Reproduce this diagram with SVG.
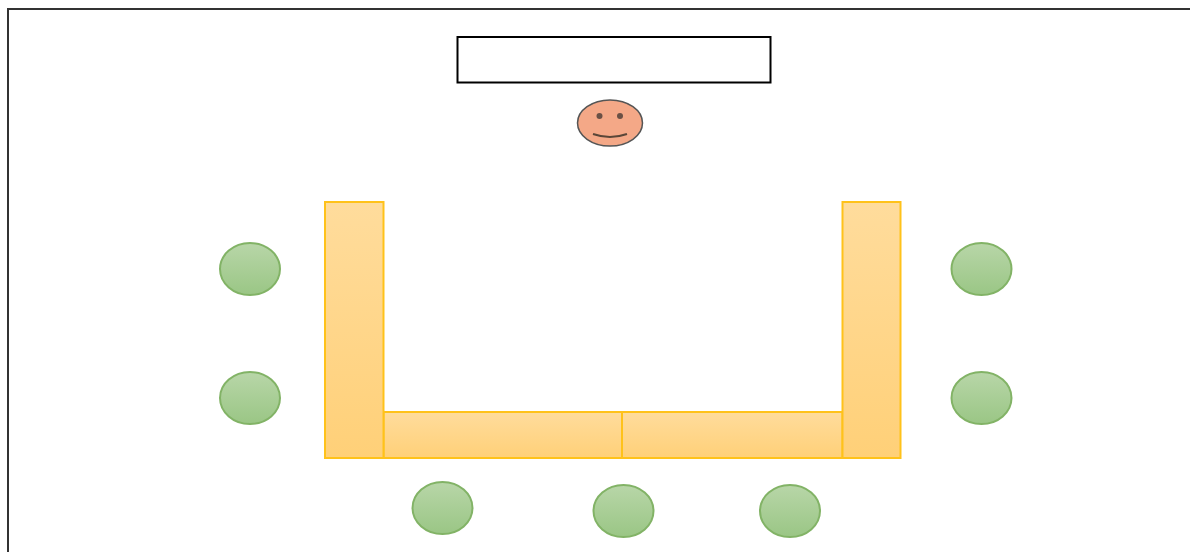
<svg xmlns="http://www.w3.org/2000/svg" width="1190" height="552" viewBox="0 0 1190 552">
<style>
.t{stroke:#ffc21a;stroke-width:2}
.s{fill:url(#gs);stroke:#82b366;stroke-width:2}
.f{fill:none;stroke:#5a4638;stroke-width:2}
</style>
<defs>
<linearGradient id="go" x1="0" y1="0" x2="0" y2="1"><stop offset="0" stop-color="#ffdc9c"/><stop offset="1" stop-color="#ffd078"/></linearGradient>
<linearGradient id="gs" x1="0" y1="0" x2="0" y2="1"><stop offset="0" stop-color="#b8d6a8"/><stop offset="1" stop-color="#9ac685"/></linearGradient>
</defs>
<rect width="1190" height="552" fill="#fff"/>
<g id="room"><path d="M1190 9H8V552" fill="none" stroke="#333" stroke-width="2"/></g>
<g id="board"><rect x="457.500" y="37" width="313" height="45.500" fill="#fff" stroke="#000" stroke-width="2"/></g>
<g id="teacher">
<ellipse cx="610" cy="123" rx="32.500" ry="23" fill="#f4a887" stroke="#555" stroke-width="1.500"/>
<circle cx="599.500" cy="116" r="3" fill="#6a5045"/>
<circle cx="620" cy="116" r="3" fill="#6a5045"/>
<path class="f" d="M593 134Q610 140 627 134"/>
</g>
<g id="tables">
<rect id="table-bottom-left" class="t" x="383.500" y="412" width="238.500" height="46" fill="url(#go)"/>
<rect id="table-bottom-right" class="t" x="622" y="412" width="220.500" height="46" fill="url(#go)"/>
<rect id="table-left" class="t" x="325" y="202" width="58.500" height="256" fill="url(#go)"/>
<rect id="table-right" class="t" x="842.500" y="202" width="58" height="256" fill="url(#go)"/>
</g>
<g id="student-1"><ellipse class="s" cx="250" cy="269" rx="30" ry="26"/></g>
<g id="student-2"><ellipse class="s" cx="250" cy="398" rx="30" ry="26"/></g>
<g id="student-3"><ellipse class="s" cx="981.500" cy="269" rx="30" ry="26"/></g>
<g id="student-4"><ellipse class="s" cx="981.500" cy="398" rx="30" ry="26"/></g>
<g id="student-5"><ellipse class="s" cx="442.500" cy="508" rx="30" ry="26"/></g>
<g id="student-6"><ellipse class="s" cx="623.500" cy="511" rx="30" ry="26"/></g>
<g id="student-7"><ellipse class="s" cx="790" cy="511" rx="30" ry="26"/></g>
<g id="connectors"></g>
</svg>
